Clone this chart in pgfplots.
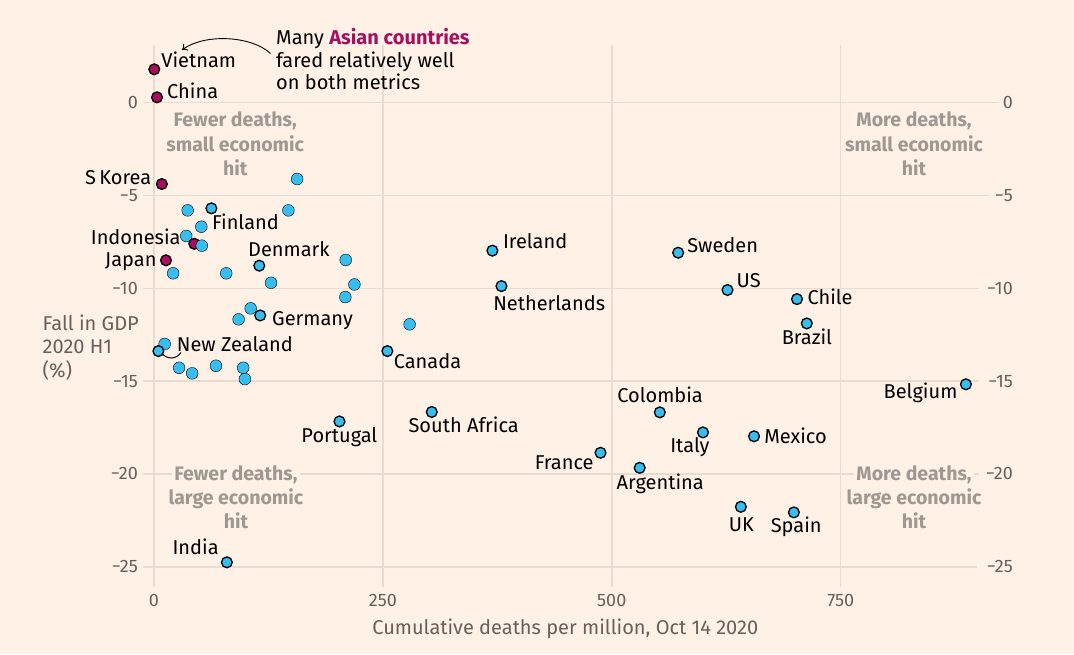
\documentclass[border=0pt]{standalone}
\usepackage{pgfplots}
\pgfplotsset{compat=1.18}
\usetikzlibrary{arrows.meta}
\usepackage{fontspec}
\setmainfont{Fira Sans}
\definecolor{bgc}{HTML}{FFF1E5}
\definecolor{gridc}{HTML}{E8DCD2}
\definecolor{tickc}{HTML}{66605C}
\definecolor{quadc}{HTML}{9E9893}
\definecolor{claret}{HTML}{A8105F}
\definecolor{skyb}{HTML}{36BEF0}

\begin{document}
\begin{tikzpicture}
\fill[bgc] (0,0) rectangle (1074pt,654pt);
\useasboundingbox (0,0) rectangle (1074pt,654pt);
\begin{axis}[
  at={(143pt,67pt)}, anchor=south west, scale only axis,
  width=835pt, height=542pt,
  xmin=-12, xmax=900, ymin=-26.09, ymax=3.11,
  clip=false,
  axis line style={draw=none}, tick style={draw=none},
  xtick={0,250,500,750}, xticklabels={0,250,500,750},
  ytick={-25,-20,-15,-10,-5,0}, yticklabels={−25,−20,−15,−10,−5,0},
  ticklabel style={font=\fontsize{18}{20}\selectfont, text=tickc, inner sep=0pt},
  xticklabel style={anchor=north, yshift=-7pt},
  yticklabel style={anchor=east, xshift=-5pt},
]
% grid
\foreach \xv in {0,250,500,750} {
  \edef\tmp{\noexpand\draw[gridc, line width=1.5pt] (axis cs:\xv,-26.09) -- (axis cs:\xv,3.11);}\tmp
}
\draw[gridc, line width=1.5pt] (axis cs:-12,0) -- (axis cs:921.7,0);
\draw[gridc, line width=1.5pt] (axis cs:-12,-5) -- (axis cs:913,-5);
\draw[gridc, line width=1.5pt] (axis cs:-12,-10) -- (axis cs:901,-10);
\draw[gridc, line width=1.5pt] (axis cs:-12,-15) -- (axis cs:901,-15);
\draw[gridc, line width=1.5pt] (axis cs:-12,-20) -- (axis cs:901,-20);
\draw[gridc, line width=1.5pt] (axis cs:-12,-25) -- (axis cs:898.8,-25);

% unlabelled countries
\addplot[only marks, mark=*, mark size=5.9pt, mark options={draw=none, fill=skyb}] coordinates {
 (156.4,-4.11) (36.8,-5.8) (146.8,-5.8) (51.7,-6.68) (35.2,-7.18)
 (20.9,-9.19) (78.9,-9.19) (127.8,-9.7) (209.4,-8.47) (218.9,-9.79) (209,-10.47)
 (105.6,-11.08) (92.4,-11.67) (279.2,-11.94) (11.6,-13.0) (27.4,-14.28)
 (41.7,-14.58) (67.7,-14.17) (97.4,-14.28) (99.3,-14.89)
};
% labelled countries
\addplot[only marks, mark=*, mark size=5.4pt, mark options={draw=black, line width=1.3pt, fill=skyb}] coordinates {
 (62.7,-5.69) (115,-8.78) (116,-11.46) (369.6,-7.97) (379.5,-9.88) (4.8,-13.38)
 (254.9,-13.38) (202.6,-17.17) (303.4,-16.66) (79.6,-24.76) (572.5,-8.08)
 (626.4,-10.09) (702.3,-10.58) (713,-11.89) (886.8,-15.17) (552.5,-16.68)
 (599.6,-17.76) (655.4,-17.97) (487.7,-18.86) (530.5,-19.67) (641,-21.77)
 (698.9,-22.07)
};
% Asian countries
\addplot[only marks, mark=*, mark size=5.4pt, mark options={draw=black, line width=1.3pt, fill=claret}] coordinates {
 (0.3,1.8) (3.3,0.29) (8.6,-4.38) (44,-7.6) (13.1,-8.49)
};
% unlabelled dot drawn above Indonesia
\addplot[only marks, mark=*, mark size=5.9pt, mark options={draw=none, fill=skyb}] coordinates {
 (52.2,-7.7)
};
\end{axis}
\begin{axis}[
  at={(143pt,67pt)}, anchor=south west, scale only axis,
  width=835pt, height=542pt,
  xmin=-12, xmax=900, ymin=-26.09, ymax=3.11,
  hide x axis,
  axis line style={draw=none}, tick style={draw=none},
  yticklabel pos=right,
  ytick={-25,-20,-15,-10,-5,0}, yticklabels={−25,−20,−15,−10,−5,0},
  yticklabel style={font=\fontsize{18}{20}\selectfont, text=tickc, inner sep=0pt, anchor=east, xshift=35pt},
]
\addplot[draw=none, forget plot] coordinates {(0,0)};
\end{axis}

\begin{scope}[shift={(0pt,654pt)}, x=1pt, y=-1pt,
  lab/.style={font=\fontsize{20}{22}\selectfont, inner sep=0pt, text height=13.8pt, text depth=0pt},
  quad/.style={font=\fontsize{19.5}{22}\selectfont\bfseries, text=quadc, inner sep=0pt, text height=13.4pt, text depth=0pt},
  desc/.style={font=\fontsize{20}{22}\selectfont, text=tickc, inner sep=0pt, text height=13.8pt, text depth=0pt}]
% country labels
\node[lab, anchor=west] at (161.2,60.5) {Vietnam};
\node[lab, anchor=west] at (167,92) {China};
\node[lab, anchor=east] at (151.5,177.7) {S\,Korea};
\node[lab, anchor=west] at (211.8,222.7) {Finland};
\node[lab, anchor=east] at (180.8,237.7) {Indonesia};
\node[lab, anchor=east] at (156.7,260) {Japan};
\node[lab, anchor=west] at (248,249.3) {Denmark};
\node[lab, anchor=west] at (272,318.3) {Germany};
\node[lab, anchor=west] at (502.8,241.7) {Ireland};
\node[lab, anchor=west] at (493.1,303.3) {Netherlands};
\node[lab, anchor=west] at (176.7,345) {New Zealand};
\node[lab, anchor=west] at (393.6,361.7) {Canada};
\node[lab] at (339.4,435.5) {Portugal};
\node[lab] at (463.7,426) {South Africa};
\node[lab] at (195.6,547.7) {India};
\node[lab, anchor=west] at (687.1,245.7) {Sweden};
\node[lab, anchor=west] at (736.5,281) {US};
\node[lab, anchor=west] at (807.4,297.3) {Chile};
\node[lab] at (806.9,337.3) {Brazil};
\node[lab, anchor=east] at (957.6,391.7) {Belgium};
\node[lab] at (660.1,396) {Colombia};
\node[lab] at (689.9,445.5) {Italy};
\node[lab, anchor=west] at (764.1,436.7) {Mexico};
\node[lab, anchor=east] at (593.8,462.7) {France};
\node[lab] at (660.2,482.7) {Argentina};
\node[lab] at (741.4,524.3) {UK};
\node[lab] at (796.2,526) {Spain};
% NZ connector
\draw[black, line width=1pt] (162,353) .. controls (166,359.5) and (176,360) .. (181,352.5);
% annotation
\node[lab, anchor=west] at (276,37.5) {Many \textcolor{claret}{\bfseries Asian countries}};
\node[lab, anchor=west] at (276,60.5) {fared relatively well};
\node[lab, anchor=west] at (276,83) {on both metrics};
\draw[black, line width=0.9pt, -{To[length=5pt,width=8pt]}] (270.5,53.5) .. controls (252,36) and (205,33) .. (182,50);
% quadrant labels
\node[quad] at (235.2,120.3) {Fewer deaths,};
\node[quad] at (235.2,144.5) {small economic};
\node[quad] at (235.2,168.5) {hit};
\node[quad, fill=bgc, inner xsep=2pt] at (235.9,474) {Fewer deaths,};
\node[quad] at (235.9,498.2) {large economic};
\node[quad] at (235.9,522) {hit};
\node[quad] at (914,120.3) {More deaths,};
\node[quad] at (914,144.5) {small economic};
\node[quad] at (914,168.5) {hit};
\node[quad, fill=bgc, inner xsep=2pt] at (914,473.5) {More deaths,};
\node[quad] at (914,498.2) {large economic};
\node[quad] at (914,522) {hit};
% axis descriptions
\node[desc, anchor=west] at (42.5,324) {Fall in GDP};
\node[desc, anchor=west] at (42.5,347) {2020 H1};
\node[desc, anchor=west] at (42.5,370.5) {(\%)};
\node[desc] at (565.3,627.7) {Cumulative deaths per million, Oct 14 2020};
\end{scope}
\end{tikzpicture}
\end{document}
